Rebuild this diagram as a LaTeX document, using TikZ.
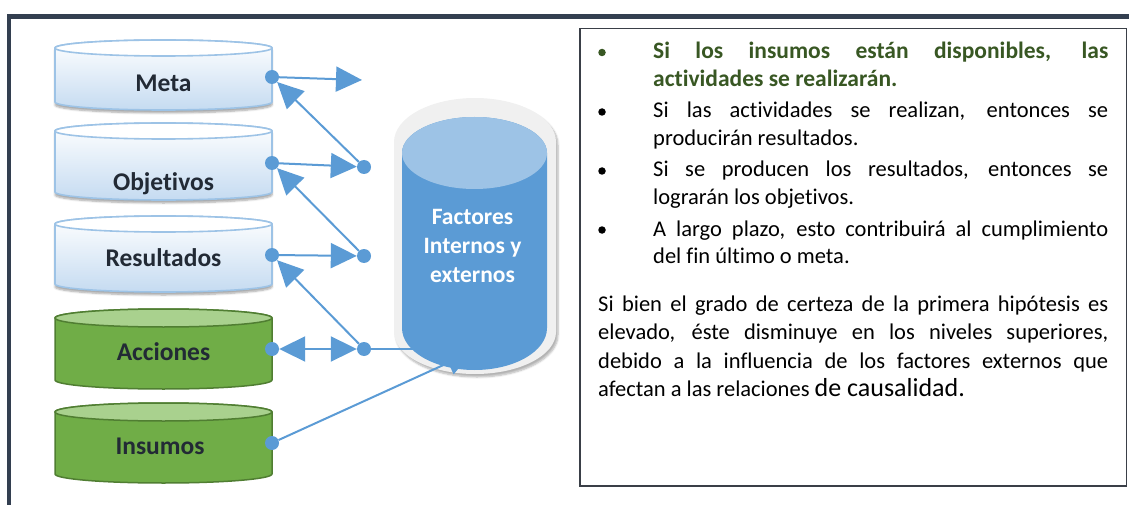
\documentclass[tikz,border=0pt]{standalone}
\usepackage{fontspec}
\setmainfont{Carlito}[Ligatures={NoCommon}]
\usetikzlibrary{arrows.meta,shadows.blur}
\definecolor{frameslate}{HTML}{333F50}
\definecolor{arrowblue}{HTML}{5B9BD5}
\definecolor{capblue}{HTML}{9DC3E6}
\definecolor{paleblue}{HTML}{C5DBF1}
\definecolor{leafgreen}{HTML}{70AD47}
\definecolor{lightgreen}{HTML}{A9D18E}
\definecolor{darkgreen}{HTML}{507E32}
\definecolor{olivetext}{HTML}{385723}
\definecolor{labelink}{HTML}{222A35}
\definecolor{boxgray}{HTML}{3A3F47}
\definecolor{rimgray}{HTML}{F0F0F0}
\tolerance=10000
\hyphenpenalty=10000
\begin{document}
\begin{tikzpicture}[x=1pt,y=-1pt,
  boxline/.style={draw=boxgray, line width=1.5pt},
  lvl/.style={font=\fontsize{25.5}{28}\selectfont\bfseries, text=labelink, inner sep=0pt, anchor=base},
  paletop/.style={draw=capblue, line width=1.6pt, fill=white},
  palebody/.style={draw=capblue, line width=1.6pt, top color=white, bottom color=paleblue,
    blur shadow={shadow xshift=0pt, shadow yshift=-3pt, shadow blur steps=6, shadow opacity=35}},
  greentop/.style={draw=darkgreen, line width=1.5pt, fill=lightgreen},
  greenbody/.style={draw=darkgreen, line width=1.5pt, fill=leafgreen},
  joint/.style={circle, fill=arrowblue, inner sep=0pt, minimum size=14pt},
  linkline/.style={draw=arrowblue, line width=2pt},
  linkarrow/.style={linkline, -{Triangle[length=26pt,width=25pt]}},
  bulletmark/.style={circle, fill=black, inner sep=0pt, minimum size=7.5pt},
  itemtext/.style={text width=455pt, align=justify, inner sep=0pt, anchor=base west,
    font=\fontsize{22.5}{28}\selectfont},
  paratext/.style={text width=510pt, align=justify, inner sep=0pt, anchor=base west,
    font=\fontsize{22.5}{28.5}\selectfont}]
\useasboundingbox (0,0) rectangle (1129,505);
%%%%%%%%%%%%%%%%
\fill[frameslate] (7,14) rectangle (1129,19);
\fill[frameslate] (7,14) rectangle (11,505);
\draw[boxline] (580,28.5) rectangle (1126.5,486);
%%%%%%%%%%%%%%%%
\draw[palebody] (55,48) -- (55,102) arc[start angle=180,end angle=0,x radius=108.5,y radius=8] -- (272,48) arc[start angle=0,end angle=-180,x radius=108.5,y radius=8] -- cycle;
\draw[paletop] (163.5,48) ellipse[x radius=108.5,y radius=8];
\node[lvl] (meta) at (163.5,92) {Meta};
\node[joint] (metadot) at (272,77) {};
%%%%%%%%%%%%%%%%
\draw[palebody] (55,131) -- (55,192) arc[start angle=180,end angle=0,x radius=108.5,y radius=8] -- (272,131) arc[start angle=0,end angle=-180,x radius=108.5,y radius=8] -- cycle;
\draw[paletop] (163.5,131) ellipse[x radius=108.5,y radius=8];
\node[lvl] (obj) at (163.5,190) {Objetivos};
\node[joint] (objdot) at (272,163) {};
%%%%%%%%%%%%%%%%
\draw[palebody] (55,224) -- (55,284) arc[start angle=180,end angle=0,x radius=108.5,y radius=8] -- (272,224) arc[start angle=0,end angle=-180,x radius=108.5,y radius=8] -- cycle;
\draw[paletop] (163.5,224) ellipse[x radius=108.5,y radius=8];
\node[lvl] (res) at (163.5,266) {Resultados};
\node[joint] (resdot) at (272,255) {};
%%%%%%%%%%%%%%%%
\draw[greenbody] (55,318) -- (55,380) arc[start angle=180,end angle=0,x radius=108.5,y radius=9] -- (272,318) arc[start angle=0,end angle=-180,x radius=108.5,y radius=9] -- cycle;
\draw[greentop] (163.5,318) ellipse[x radius=108.5,y radius=9];
\node[lvl] (acc) at (163.5,360) {Acciones};
\node[joint] (accdot) at (272,349) {};
%%%%%%%%%%%%%%%%
\draw[greenbody] (55,412) -- (55,474) arc[start angle=180,end angle=0,x radius=108.5,y radius=9] -- (272,412) arc[start angle=0,end angle=-180,x radius=108.5,y radius=9] -- cycle;
\draw[greentop] (163.5,412) ellipse[x radius=108.5,y radius=9];
\node[lvl] (ins) at (160,454) {Insumos};
\node[joint] (insdot) at (272,443) {};
%%%%%%%%%%%%%%%%
\fill[rimgray, blur shadow={shadow xshift=2pt, shadow yshift=-3pt, shadow blur steps=6, shadow opacity=30}] (394,142) -- (394,332) arc[start angle=180,end angle=0,x radius=81,y radius=42] -- (556,142) arc[start angle=0,end angle=-180,x radius=81,y radius=44] -- cycle;
\fill[arrowblue] (402,153) -- (402,328) arc[start angle=180,end angle=0,x radius=72.5,y radius=42] -- (547,153) arc[start angle=0,end angle=-180,x radius=72.5,y radius=36] -- cycle;
\fill[capblue] (474.5,153) ellipse[x radius=72.5,y radius=36];
\node[align=center, text=white, inner sep=0pt, font=\fontsize{23.5}{29}\selectfont\bfseries] (factors) at (472.5,246) {Factores\\Internos y\\externos};
%%%%%%%%%%%%%%%%
\node[joint] (joinA) at (364,167) {};
\node[joint] (joinB) at (364,256) {};
\node[joint] (joinC) at (364,349) {};
\coordinate (metaend) at (362,80);
\coordinate (factorsend) at (423,349);
\coordinate (factorstip) at (472,352);
\draw[linkarrow] (metadot) -- (metaend);
\draw[linkarrow] (joinA) -- (metadot);
\draw[linkarrow] (objdot) -- (joinA);
\draw[linkarrow] (joinB) -- (objdot);
\draw[linkarrow] (resdot) -- (joinB);
\draw[linkarrow] (joinC) -- (resdot);
\draw[linkline, {Triangle[length=26pt,width=25pt]}-{Triangle[length=26pt,width=25pt]}] (accdot) -- (joinC);
\draw[linkline] (joinC) -- (factorsend);
\draw[linkarrow] (insdot) -- (factorstip);
%%%%%%%%%%%%%%%%
\node[bulletmark, fill=olivetext] (markA) at (602,52.5) {};
\node[itemtext, text=olivetext, font=\fontsize{23.5}{28}\selectfont\bfseries] (hypA) at (653,59) {Si los insumos están disponibles, las\linebreak actividades se realizarán.};
\node[bulletmark] (markB) at (602,112) {};
\node[itemtext] (hypB) at (653,118) {Si las actividades se realizan, entonces se\linebreak producirán resultados.};
\node[bulletmark] (markC) at (602,171) {};
\node[itemtext] (hypC) at (653,177) {Si se producen los resultados, entonces se\linebreak lograrán los objetivos.};
\node[bulletmark] (markD) at (602,230) {};
\node[itemtext] (hypD) at (653,236) {A largo plazo, esto contribuirá al cumplimiento\linebreak del fin último o meta.};
%%%%%%%%%%%%%%%%
\node[paratext] (remark) at (598,311) {Si bien el grado de certeza de la primera hipótesis es\linebreak elevado, éste disminuye en los niveles superiores,\linebreak debido a la influencia de los factores externos que\linebreak afectan a las relaciones {\fontsize{26}{30}\selectfont de causalidad.}};
\end{tikzpicture}
\end{document}
